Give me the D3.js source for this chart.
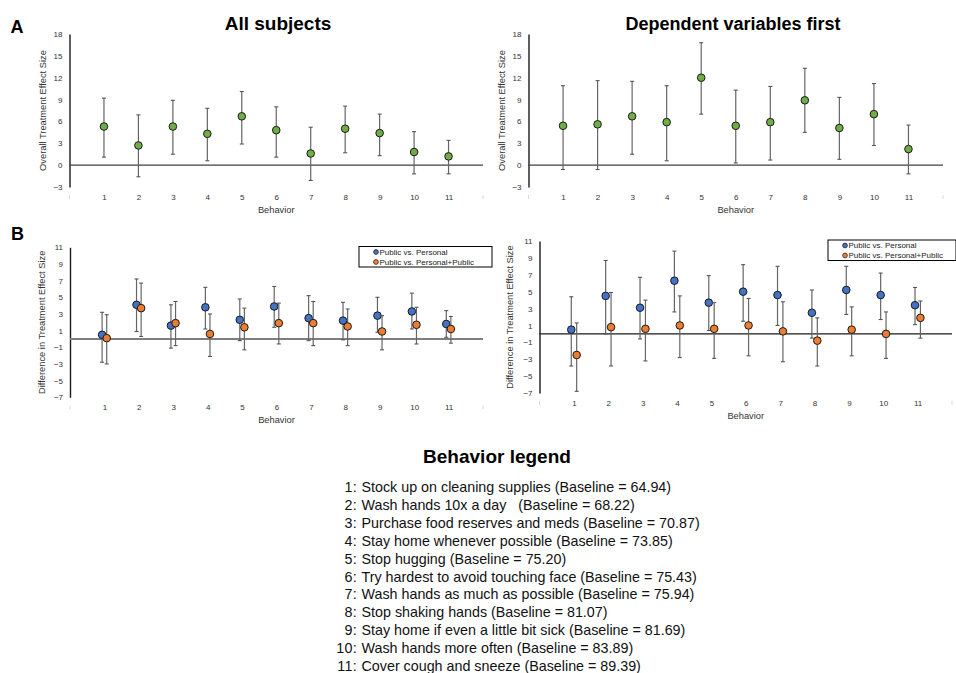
<!DOCTYPE html>
<html>
<head>
<meta charset="utf-8">
<script src="https://cdn.jsdelivr.net/npm/d3@7/dist/d3.min.js"></script>
<style>
  body { margin: 0; background: #fff; }
  svg { display: block; font-family: "Liberation Sans", Arial, sans-serif; }
</style>
</head>
<body>
<svg id="chart" width="956" height="673"></svg>
<script>
// behaviours on the x axis
var behaviors = [1, 2, 3, 4, 5, 6, 7, 8, 9, 10, 11];
var ticksA = [-3, 0, 3, 6, 9, 12, 15, 18];
var ticksB = [-7, -5, -3, -1, 1, 3, 5, 7, 9, 11];

// panel A, all subjects
var allMean = [5.3, 2.7, 5.3, 4.3, 6.7, 4.8, 1.6, 5.0, 4.4, 1.8, 1.2];
var allLow  = [1.1, -1.6, 1.5, 0.6, 2.9, 1.1, -2.1, 1.7, 1.3, -1.2, -1.2];
var allHigh = [9.2, 6.9, 8.9, 7.8, 10.1, 8.0, 5.2, 8.1, 7.0, 4.6, 3.4];

// panel A, dependent variables first
var depMean = [5.4, 5.6, 6.7, 5.9, 12.0, 5.4, 5.9, 8.9, 5.1, 7.0, 2.2];
var depLow  = [-0.6, -0.6, 1.5, 0.6, 7.0, 0.3, 0.7, 4.5, 0.8, 2.7, -1.2];
var depHigh = [10.9, 11.6, 11.5, 10.9, 16.8, 10.3, 10.8, 13.3, 9.3, 11.2, 5.5];

// panel B, all subjects
var allPersMean = [0.5, 4.1, 1.6, 3.8, 2.3, 3.9, 2.5, 2.2, 2.8, 3.3, 1.8];
var allPersLow  = [-2.8, 0.9, -1.1, 1.2, -0.2, 1.4, -0.2, -0.1, 0.8, 1.2, 0.2];
var allPersHigh = [3.2, 7.2, 4.1, 6.2, 4.8, 6.3, 5.2, 4.4, 5.0, 5.5, 3.4];
var allPubMean  = [0.1, 3.7, 1.9, 0.6, 1.4, 1.9, 1.9, 1.5, 0.9, 1.7, 1.2];
var allPubLow   = [-3.0, 0.3, -0.8, -2.1, -1.3, -0.6, -0.8, -0.8, -1.3, -0.6, -0.5];
var allPubHigh  = [2.9, 6.7, 4.5, 3.0, 3.7, 4.3, 4.5, 3.6, 2.8, 3.8, 2.7];

// panel B, dependent variables first
var depPersMean = [0.5, 4.5, 3.1, 6.3, 3.7, 5.0, 4.6, 2.5, 5.2, 4.6, 3.4];
var depPersLow  = [-3.8, 0.0, -0.6, 2.6, 0.4, 1.5, 1.0, -0.5, 2.3, 1.7, 1.1];
var depPersHigh = [4.4, 8.7, 6.7, 9.8, 6.9, 8.2, 8.0, 5.2, 8.0, 7.2, 5.5];
var depPubMean  = [-2.5, 0.8, 0.6, 1.0, 0.6, 1.0, 0.3, -0.8, 0.5, 0.0, 1.9];
var depPubLow   = [-6.8, -3.8, -3.2, -2.8, -2.9, -2.6, -3.3, -3.8, -2.6, -2.9, -0.5];
var depPubHigh  = [1.3, 4.9, 4.0, 4.5, 3.7, 4.2, 3.8, 1.9, 3.2, 2.6, 3.9];

var seriesNames = ["Public vs. Personal", "Public vs. Personal+Public"];

var legendLines = [
    "Stock up on cleaning supplies (Baseline = 64.94)",
    "Wash hands 10x a day   (Baseline = 68.22)",
    "Purchase food reserves and meds (Baseline = 70.87)",
    "Stay home whenever possible (Baseline = 73.85)",
    "Stop hugging (Baseline = 75.20)",
    "Try hardest to avoid touching face (Baseline = 75.43)",
    "Wash hands as much as possible (Baseline = 75.94)",
    "Stop shaking hands (Baseline = 81.07)",
    "Stay home if even a little bit sick (Baseline = 81.69)",
    "Wash hands more often (Baseline = 83.89)",
    "Cover cough and sneeze (Baseline = 89.39)"
];

var green = "#70AD47", blue = "#4472C4", orange = "#ED7D31";
var svg = d3.select("#chart");

function zip(mean, low, high) {
    return behaviors.map(function(b, i) {
        return { b: b, mean: mean[i], low: low[i], high: high[i] };
    });
}

function drawPanel(p) {
    var x = d3.scaleLinear().domain([0, 12]).range([p.left, p.right]);
    var y = d3.scaleLinear().domain([p.ticks[0], p.ticks[p.ticks.length - 1]]).range([p.bottom, p.top]);
    var g = svg.append("g");

    // y axis
    var ya = g.append("g")
        .attr("transform", "translate(" + p.left + ",0)")
        .call(d3.axisLeft(y).tickValues(p.ticks).tickSize(0).tickPadding(7));
    ya.select(".domain").attr("stroke", "#1a1a1a").attr("stroke-width", 1.4);
    ya.selectAll("text").attr("font-size", "8px").attr("fill", "#333")
      .attr("font-family", "Liberation Sans, Arial, sans-serif");

    // zero line
    g.append("line")
     .attr("x1", x(0)).attr("x2", x(12))
     .attr("y1", y(0)).attr("y2", y(0))
     .attr("stroke", p.zeroColor).attr("stroke-width", p.zeroWidth);

    // x labels (no axis line)
    var xa = g.append("g")
        .attr("transform", "translate(0," + p.bottom + ")")
        .call(d3.axisBottom(x).tickValues(behaviors).tickSize(0).tickPadding(7));
    xa.select(".domain").remove();
    xa.selectAll("text").attr("font-size", "8px").attr("fill", "#333")
      .attr("font-family", "Liberation Sans, Arial, sans-serif");

    // faint marks at the ends of the x range
    g.selectAll(".endmark")
     .data([0, 12])
     .enter().append("line")
     .attr("x1", function(d) { return x(d); })
     .attr("x2", function(d) { return x(d); })
     .attr("y1", p.bottom + 8).attr("y2", p.bottom + 12)
     .attr("stroke", "#cfcfcf").attr("stroke-width", 0.8);

    g.append("text")
     .attr("x", (x(0) + x(12)) / 2)
     .attr("y", p.bottom + 26)
     .attr("text-anchor", "middle")
     .attr("font-size", "9.3px")
     .attr("fill", "#333")
     .text("Behavior");

    g.append("text")
     .attr("transform", "translate(" + (p.left - p.titleOff) + "," + ((p.top + p.bottom) / 2) + ") rotate(-90)")
     .attr("text-anchor", "middle")
     .attr("font-size", "9.3px")
     .attr("fill", "#333")
     .text(p.yTitle);

    p.series.forEach(function(s) {
        var data = zip(s.mean, s.low, s.high);
        var sg = g.append("g");
        sg.selectAll(".bar")
          .data(data)
          .enter().append("line")
          .attr("x1", function(d) { return x(d.b) + s.dx; })
          .attr("x2", function(d) { return x(d.b) + s.dx; })
          .attr("y1", function(d) { return y(d.low); })
          .attr("y2", function(d) { return y(d.high); })
          .attr("stroke", "#666").attr("stroke-width", 1.2);
        ["low", "high"].forEach(function(k) {
            sg.selectAll(".cap-" + k)
              .data(data)
              .enter().append("line")
              .attr("x1", function(d) { return x(d.b) + s.dx - 2; })
              .attr("x2", function(d) { return x(d.b) + s.dx + 2; })
              .attr("y1", function(d) { return y(d[k]); })
              .attr("y2", function(d) { return y(d[k]); })
              .attr("stroke", "#555").attr("stroke-width", 1.1);
        });
        sg.selectAll(".pt")
          .data(data)
          .enter().append("circle")
          .attr("cx", function(d) { return x(d.b) + s.dx; })
          .attr("cy", function(d) { return y(d.mean); })
          .attr("r", p.r)
          .attr("fill", s.color)
          .attr("stroke", "#1a1a1a").attr("stroke-width", 1);
    });

    if (p.legend) {
        var lg = g.append("g").attr("transform", "translate(" + p.legend[0] + "," + p.legend[1] + ")");
        lg.append("rect")
          .attr("width", p.legend[2]).attr("height", 20.5)
          .attr("fill", "#fff").attr("stroke", "#000").attr("stroke-width", 1);
        seriesNames.forEach(function(n, i) {
            lg.append("circle")
              .attr("cx", 17).attr("cy", 5.5 + i * 10)
              .attr("r", 2.4)
              .attr("fill", p.series[i].color)
              .attr("stroke", "#1a1a1a").attr("stroke-width", 0.7);
            lg.append("text")
              .attr("x", 20.5).attr("y", 8.3 + i * 10)
              .attr("font-size", "8px")
              .attr("fill", "#222")
              .text(n);
        });
    }
}

drawPanel({ left: 69.5, right: 483, top: 34, bottom: 187, ticks: ticksA, r: 3.8,
    zeroColor: "#404040", zeroWidth: 1.3, titleOff: 24,
    yTitle: "Overall Treatment Effect Size",
    series: [{ mean: allMean, low: allLow, high: allHigh, color: green, dx: 0 }] });

drawPanel({ left: 528.5, right: 943, top: 34, bottom: 187, ticks: ticksA, r: 3.8,
    zeroColor: "#404040", zeroWidth: 1.3, titleOff: 24,
    yTitle: "Overall Treatment Effect Size",
    series: [{ mean: depMean, low: depLow, high: depHigh, color: green, dx: 0 }] });

drawPanel({ left: 70, right: 483, top: 247.3, bottom: 397.3, ticks: ticksB, r: 3.8,
    zeroColor: "#7f7f7f", zeroWidth: 2, titleOff: 25,
    yTitle: "Difference in Treatment Effect Size",
    legend: [359, 246.5, 133],
    series: [{ mean: allPersMean, low: allPersLow, high: allPersHigh, color: blue, dx: -2.3 },
             { mean: allPubMean, low: allPubLow, high: allPubHigh, color: orange, dx: 2.3 }] });

drawPanel({ left: 539.5, right: 952, top: 241, bottom: 393, ticks: ticksB, r: 3.8,
    zeroColor: "#1a1a1a", zeroWidth: 1.3, titleOff: 27,
    yTitle: "Difference in Treatment Effect Size",
    legend: [828, 240, 128],
    series: [{ mean: depPersMean, low: depPersLow, high: depPersHigh, color: blue, dx: -2.6 },
             { mean: depPubMean, low: depPubLow, high: depPubHigh, color: orange, dx: 2.8 }] });

// titles and panel letters
svg.append("text").attr("x", 278).attr("y", 30).attr("text-anchor", "middle")
   .attr("font-size", "19px").attr("font-weight", "bold").text("All subjects");
svg.append("text").attr("x", 733).attr("y", 30).attr("text-anchor", "middle")
   .attr("font-size", "18px").attr("font-weight", "bold").text("Dependent variables first");
svg.append("text").attr("x", 10.5).attr("y", 33).attr("font-size", "18px")
   .attr("font-weight", "bold").text("A");
svg.append("text").attr("x", 11).attr("y", 240).attr("font-size", "18px")
   .attr("font-weight", "bold").text("B");

// behaviour legend
svg.append("text").attr("x", 497).attr("y", 463).attr("text-anchor", "middle")
   .attr("font-size", "19px").attr("font-weight", "bold").text("Behavior legend");

var ly = d3.scaleLinear().domain([1, 11]).range([492, 671]);
var rows = svg.append("g").selectAll("g")
    .data(legendLines)
    .enter().append("g")
    .attr("transform", function(d, i) { return "translate(0," + ly(behaviors[i]) + ")"; });
rows.append("text")
    .attr("x", 357).attr("text-anchor", "end")
    .attr("font-size", "14.3px").attr("fill", "#111")
    .attr("letter-spacing", "0.3px")
    .text(function(d, i) { return behaviors[i] + ":"; });
rows.append("text")
    .attr("x", 361.5)
    .attr("font-size", "14.3px").attr("fill", "#111")
    .style("white-space", "pre")
    .text(function(d) { return d; });
</script>
</body>
</html>
